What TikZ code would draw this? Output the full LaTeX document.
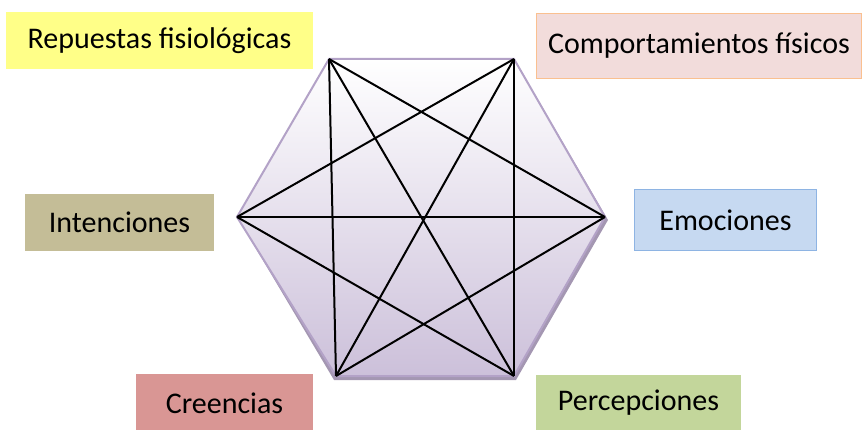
\documentclass[tikz,border=0pt]{standalone}
\usepackage{fontspec}
\setmainfont{Carlito}
\definecolor{yellowbox}{HTML}{FFFF88}
\definecolor{pinkbox}{HTML}{F2DCDB}
\definecolor{pinkline}{HTML}{FAC090}
\definecolor{tanbox}{HTML}{C4BD97}
\definecolor{bluebox}{HTML}{C6D9F1}
\definecolor{blueline}{HTML}{8EB4E3}
\definecolor{redbox}{HTML}{D99694}
\definecolor{greenbox}{HTML}{C3D69B}
\definecolor{hexline}{HTML}{B3A2C7}
\definecolor{hexbottom}{HTML}{CCC0DA}
\definecolor{hexshadow}{HTML}{A497B2}
\begin{document}
\begin{tikzpicture}
    [
        x=1pt,y=-1pt,
        label/.style={rectangle, inner sep=0pt, font=\fontsize{30}{35}\selectfont},
        edge/.style={black, line width=2pt,},
    ]
    \useasboundingbox (0,0) rectangle (864,430);

    % hexagon
    \coordinate (1) at (329,59);
    \coordinate (2) at (514,59);
    \coordinate (3) at (605,217);
    \coordinate (4) at (514,376);
    \coordinate (5) at (336,376);
    \coordinate (6) at (237,217);

    \fill[hexshadow] (331,62) -- (516,62) -- (608,220) -- (516,380) -- (334,380) -- (239,220) -- cycle;
    \path[top color=white, bottom color=hexbottom, draw=hexline, line width=2pt]
    (1) -- (2) -- (3) -- (4) -- (5) -- (6) -- cycle;

    \path[edge]
    (1) edge (3)
    (1) edge (4)
    (1) edge (5)
    (2) edge (4)
    (2) edge (5)
    (2) edge (6)
    (3) edge (5)
    (3) edge (6)
    (4) edge (6);

    % labels
    \node (fis) at (159.5,40.5) [label, fill=yellowbox, minimum width=307, minimum height=57]
        {Repuestas fisiológicas};
    \node (com) at (699,46) [label, fill=pinkbox, draw=pinkline, line width=1pt, minimum width=325, minimum height=65]
        {Comportamientos físicos};
    \node (int) at (119.5,222.5) [label, fill=tanbox, minimum width=189, minimum height=57]
        {Intenciones\hspace{8pt}};
    \node (emo) at (725.5,220) [label, fill=bluebox, draw=blueline, line width=1pt, minimum width=182, minimum height=61]
        {Emociones};
    \node (cre) at (224.5,403) [label, fill=redbox, minimum width=177, minimum height=58]
        {Creencias\hspace{18pt}};
    \node (per) at (638.5,403) [label, fill=greenbox, minimum width=205, minimum height=56]
        {Percepciones};

\end{tikzpicture}
\end{document}
